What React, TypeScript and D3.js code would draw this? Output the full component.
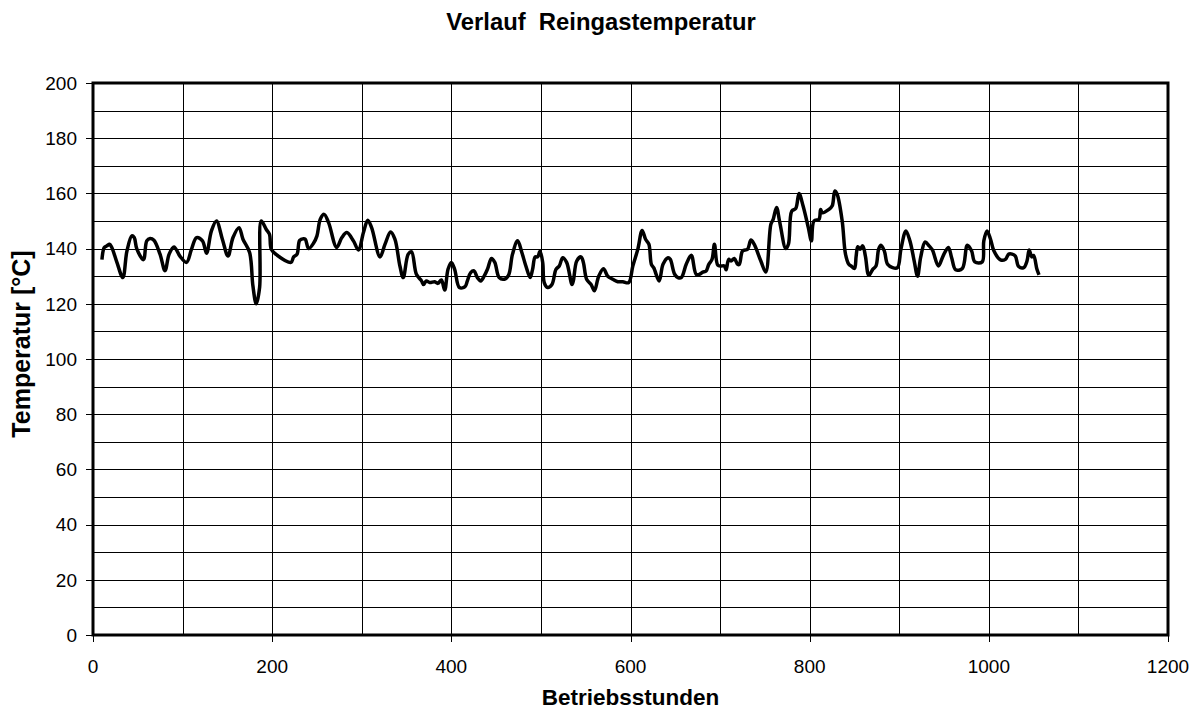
import React from "react";
import * as d3 from "d3";

const title = "Verlauf  Reingastemperatur";
const xTitle = "Betriebsstunden";
const yTitle = "Temperatur [°C]";
const xTicks = [0, 200, 400, 600, 800, 1000, 1200];
const yTicks = [0, 20, 40, 60, 80, 100, 120, 140, 160, 180, 200];

const hours = [
  10, 12.6, 15.6, 18.5, 21, 26.7, 33.3, 37.8, 43.3, 46, 49, 56.3, 60, 63.7, 68, 74.8, 80.4, 85, 90.4, 97,
  104.4, 110, 115.6, 122.2, 126.7, 132.2, 137.8, 144.4, 150.7, 156.3, 163, 167.4, 174.8, 178.5, 182.2, 186,
  187.8, 193.3, 197, 199, 205.6, 221, 224, 227.8, 230.7, 235, 237, 240.7, 246.3, 250, 253.7, 258, 263, 272,
  277.8, 283.3, 290.7, 296.3, 301.9, 306.7, 311, 320.4, 326, 332.2, 337, 342.6, 346.3, 351.9, 355.6, 361,
  366.7, 369, 372, 375.9, 381.5, 385, 388.9, 392.6, 396.3, 400, 403.7, 409, 415.3, 417.9, 421.6, 425.4, 429,
  432.8, 436.6, 440.3, 444.8, 448.5, 453.4, 459, 463.8, 468.3, 474, 478.7, 483.2, 488, 490.7, 493.6, 496.3,
  499, 502, 503.7, 507.5, 512.3, 516.8, 520.5, 524.3, 528.7, 534.7, 536.2, 540, 544.8, 547.4, 551, 556,
  559.7, 564.5, 569.8, 574.6, 580.2, 585.8, 591.4, 598, 602.6, 608.2, 613, 616.8, 620.5, 623.3, 626, 632,
  636.3, 641.9, 644.4, 649.3, 653, 656.7, 662.2, 667.8, 673.3, 677, 680.7, 684.4, 687.4, 691, 693.7, 697.4,
  701, 704.8, 706.7, 709.6, 712.2, 715.9, 719.6, 721.5, 725.2, 730.7, 734.4, 738, 745.5, 751, 756.7, 759.3,
  763, 766.7, 773.3, 776.3, 780, 784.4, 788.1, 792.6, 798.5, 801.9, 804.8, 810.4, 812.2, 814, 821.5, 825.2,
  828.1, 830.7, 836.3, 840, 843.7, 846.3, 850, 851.9, 853.7, 856.3, 859.3, 862.2, 866, 870.4, 874, 877,
  879.6, 883.3, 887, 892.6, 898, 901.9, 907.4, 911.9, 916.7, 920.4, 924, 928.9, 933.3, 937, 943.7, 948.9,
  954.8, 958.5, 963, 970.4, 976, 980.7, 984.4, 992.6, 994.4, 998, 1001.9, 1005.6, 1013, 1018.5, 1022.2,
  1026, 1029.6, 1033.3, 1038.9, 1042.6, 1045, 1048, 1050, 1053.7, 1056,
];

const temps = [
  136, 140.4, 141, 141.6, 140.4, 135, 129.5, 139, 144.6, 144, 139.8, 136, 142.8, 143.7, 143, 138, 132, 138, 140.6, 137.3,
  135, 139.8, 144, 142.8, 138.3, 146.4, 150, 143.4, 137.3, 144, 147.6, 143.4, 138.6, 126.5, 120, 126,
  150, 147, 145.2, 139.8, 137.6, 135, 137, 138, 143, 143.6, 143.4, 140, 142, 144.6, 150.6, 152.4, 149.4, 140.4,
  144, 145.8, 142.8, 139.5, 145.8, 150.3, 147.6, 137, 141.6, 146, 143.4, 133.7, 129.5, 138, 138.8, 130.7,
  128.3, 127, 128.3, 127.7, 128, 127.4, 128.6, 125, 132.5, 135, 132.5, 125.9, 126.2, 128.3, 131.3, 131.9, 129.5,
  128.3, 130, 132.5, 136.4, 135, 129.5, 128.9, 130.3, 138, 142.8, 138.6, 133.7, 129.5, 132.5, 137, 137,
  139, 135, 127.7, 125.9, 127, 132.5, 133.7, 136.7, 135, 127, 128.3, 135.5, 137, 135, 128.9, 127,
  124.7, 130, 132.7, 130, 128.9, 128, 128, 127.7, 133.7, 139.8, 146.6, 143.4, 141.6, 134.3, 133, 128.3,
  134.3, 136.7, 136.1, 130.7, 129.5, 129.5, 134.3, 137.6, 130.7, 130.7, 131.5, 131.9, 134.3, 136.1, 141.6, 134,
  133.7, 133.7, 132.3, 136.1, 135.5, 136.4, 134.3, 134.3, 139.2, 139.8, 143.1, 141.6, 135.5, 131.5, 148.8, 150.6,
  154.9, 149.4, 140, 141.6, 153.6, 154.5, 160, 155.5, 147.6, 142.8, 150, 150.6, 154.2, 153, 154.2, 155.5,
  160.9, 159.7, 150, 138, 134.3, 133.7, 132.8, 137.3, 140.7, 139.8, 141, 137.3, 130.3, 132.5, 133.7, 139.8,
  141.2, 139.2, 134.3, 133.1, 133.1, 139.8, 146.4, 142.8, 135.5, 130, 137, 142.4, 141, 139.5, 133.7, 137.3,
  140.4, 136.7, 132.3, 132.8, 141.2, 139.2, 135.2, 135.2, 142.8, 146.4, 143.4, 139.2, 135.9, 136.1, 138,
  138, 137.3, 133.5, 133.1, 135.5, 139.5, 137, 137.5, 132.5, 130.5,
];

const W = 1200;
const H = 711;
const L = 93;
const R = 1168;
const T = 83;
const B = 635;
const FONT = "'Liberation Sans', Arial, sans-serif";

export default function App() {
  const x = d3.scaleLinear().domain([0, 1200]).range([L, R]);
  const y = d3.scaleLinear().domain([0, 200]).range([B, T]);
  const data = hours.map((h, i) => [h, temps[i]] as [number, number]);
  const line = d3
    .line<[number, number]>()
    .x((d) => x(d[0]))
    .y((d) => y(d[1]))
    .curve(d3.curveCatmullRom.alpha(0.5));
  const hGrid = d3.range(10, 200, 10);
  const vGrid = d3.range(100, 1200, 100);
  return (
    <svg
      width={W}
      height={H}
      style={{ position: "absolute", left: 0, top: 0, background: "#fff" }}
    >
      <rect x={0} y={0} width={W} height={H} fill="#fff" />
      <text
        x={601}
        y={30}
        textAnchor="middle"
        fontFamily={FONT}
        fontWeight="bold"
        fontSize={23.8}
        style={{ whiteSpace: "pre" }}
      >
        {title}
      </text>
      {hGrid.map((v) => (
        <line key={"h" + v} x1={L} x2={R} y1={Math.round(y(v)) + 0.5} y2={Math.round(y(v)) + 0.5} stroke="#000" strokeWidth={1} />
      ))}
      {vGrid.map((v) => (
        <line key={"v" + v} x1={Math.round(x(v)) + 0.5} x2={Math.round(x(v)) + 0.5} y1={T} y2={B} stroke="#000" strokeWidth={1} />
      ))}
      {yTicks.map((v) => (
        <g key={"yt" + v}>
          <line x1={L - 7} x2={L} y1={Math.round(y(v)) + 0.5} y2={Math.round(y(v)) + 0.5} stroke="#000" strokeWidth={1} />
          <text x={L - 16} y={y(v)} dy="0.36em" textAnchor="end" fontFamily={FONT} fontSize={19}>
            {v}
          </text>
        </g>
      ))}
      {xTicks.map((v) => (
        <g key={"xt" + v}>
          <line x1={Math.round(x(v)) + 0.5} x2={Math.round(x(v)) + 0.5} y1={B} y2={B + 7} stroke="#000" strokeWidth={1} />
          <text x={x(v)} y={B + 38} textAnchor="middle" fontFamily={FONT} fontSize={19}>
            {v}
          </text>
        </g>
      ))}
      <rect x={L} y={T} width={R - L} height={B - T} fill="none" stroke="#000" strokeWidth={3} />
      <path d={line(data) || ""} fill="none" stroke="#000" strokeWidth={3.5} strokeLinejoin="round" />
      <text x={x(600)} y={705} textAnchor="middle" fontFamily={FONT} fontWeight="bold" fontSize={22.5}>
        {xTitle}
      </text>
      <text
        transform={`translate(30,344) rotate(-90)`}
        textAnchor="middle"
        fontFamily={FONT}
        fontWeight="bold"
        fontSize={25}
      >
        {yTitle}
      </text>
    </svg>
  );
}
